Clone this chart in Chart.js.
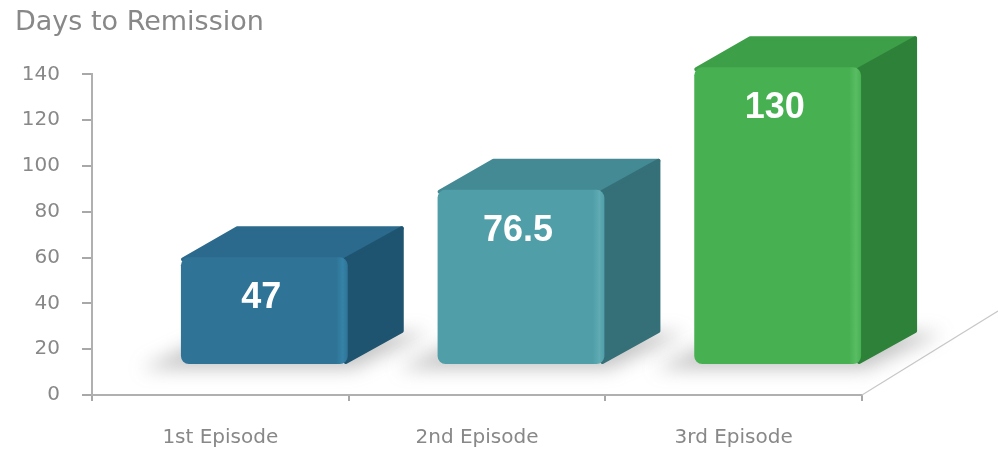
<!DOCTYPE html>
<html lang="en">
<head>
  <meta charset="UTF-8">
  <title>Days to Remission</title>
  <script src="https://cdn.jsdelivr.net/npm/chart.js"></script>
  <style>
    body { margin: 0; background: #fff; }
    #wrap { width: 998px; height: 452px; }
  </style>
</head>
<body>
  <div id="wrap"><canvas id="chart"></canvas></div>
  <script>
    // data
    const episodes = ['1st Episode', '2nd Episode', '3rd Episode'];
    const days = [47, 76.5, 130];
    const yTicks = [0, 20, 40, 60, 80, 100, 120, 140];

    // face colours per bar: front, top, side
    const frontColors = ['#2f7396', '#4f9ea8', '#47b152'];
    const topColors = ['#2b6a8c', '#438a95', '#3d9f47'];
    const sideColors = ['#1e5470', '#356f78', '#2e8138'];

    const FONT = "'DejaVu Sans', sans-serif";
    const SHIFT_X = 44, SHIFT_Y = -30;   // front face offset from the axis plane
    const DEPTH_X = 56, DEPTH_Y = -31;   // box depth

    const boxes3d = {
      id: 'boxes3d',
      beforeDatasetsDraw(chart) {
        const ctx = chart.ctx;
        const area = chart.chartArea;
        // floor edge on the right
        ctx.save();
        ctx.strokeStyle = '#c8c8c8';
        ctx.lineWidth = 1.2;
        ctx.beginPath();
        ctx.moveTo(area.right, area.bottom);
        ctx.lineTo(area.right + 136, area.bottom - 84);
        ctx.stroke();
        ctx.restore();
      },
      afterDatasetsDraw(chart) {
        const ctx = chart.ctx;
        const meta = chart.getDatasetMeta(0);
        meta.data.forEach((bar, i) => {
          const p = bar.getProps(['x', 'y', 'base', 'width'], true);
          const L = p.x - p.width / 2 + SHIFT_X;
          const R = p.x + p.width / 2 + SHIFT_X;
          const T = p.y + SHIFT_Y;
          const B = p.base + SHIFT_Y;

          // soft floor shadow
          ctx.save();
          ctx.filter = 'blur(9px)';
          ctx.fillStyle = 'rgba(110,110,110,0.4)';
          ctx.beginPath();
          ctx.moveTo(L - 40, B + 5);
          ctx.lineTo(R + 5, B + 5);
          ctx.lineTo(R + DEPTH_X + 25, B + DEPTH_Y);
          ctx.lineTo(L + DEPTH_X - 20, B + DEPTH_Y);
          ctx.closePath();
          ctx.fill();
          ctx.restore();

          ctx.save();
          ctx.lineJoin = 'round';
          ctx.lineWidth = 4;
          // top face
          ctx.fillStyle = topColors[i];
          ctx.strokeStyle = topColors[i];
          ctx.beginPath();
          ctx.moveTo(L + 2, T + 2);
          ctx.lineTo(L + DEPTH_X, T + DEPTH_Y + 2);
          ctx.lineTo(R + DEPTH_X - 2, T + DEPTH_Y + 2);
          ctx.lineTo(R - 2, T + 2);
          ctx.closePath();
          ctx.fill();
          ctx.stroke();
          // side face
          ctx.fillStyle = sideColors[i];
          ctx.strokeStyle = sideColors[i];
          ctx.beginPath();
          ctx.moveTo(R - 2, T + 2);
          ctx.lineTo(R + DEPTH_X - 2, T + DEPTH_Y + 2);
          ctx.lineTo(R + DEPTH_X - 2, B + DEPTH_Y - 2);
          ctx.lineTo(R - 2, B - 2);
          ctx.closePath();
          ctx.fill();
          ctx.stroke();
          // front face
          const g = ctx.createLinearGradient(L, 0, R, 0);
          g.addColorStop(0, frontColors[i]);
          g.addColorStop(0.93, frontColors[i]);
          g.addColorStop(0.97, Chart.helpers.color(frontColors[i]).lighten(0.12).rgbString());
          g.addColorStop(1, frontColors[i]);
          ctx.fillStyle = g;
          ctx.beginPath();
          ctx.roundRect(L, T, R - L, B - T, 8);
          ctx.fill();
          ctx.restore();

          // value label
          ctx.save();
          ctx.fillStyle = '#ffffff';
          ctx.font = "bold 36px 'Liberation Sans', Arial, sans-serif";
          ctx.textAlign = 'center';
          ctx.textBaseline = 'middle';
          ctx.fillText(String(days[i]), (L + R) / 2 - 3, T + 41);
          ctx.restore();
        });
      }
    };

    new Chart(document.getElementById('chart'), {
      type: 'bar',
      data: {
        labels: episodes,
        datasets: [{
          data: days,
          backgroundColor: 'rgba(0,0,0,0)',
          borderWidth: 0,
          barPercentage: 0.65,
          categoryPercentage: 1
        }]
      },
      options: {
        responsive: true,
        maintainAspectRatio: false,
        animation: false,
        layout: { padding: { left: 15, right: 136, top: 0, bottom: 0 } },
        plugins: {
          legend: { display: false },
          tooltip: { enabled: false },
          title: {
            display: true,
            text: 'Days to Remission',
            align: 'start',
            color: '#888888',
            font: { family: FONT, size: 27, weight: 'normal' },
            padding: { top: 7, bottom: 35 }
          }
        },
        scales: {
          x: {
            grid: { drawOnChartArea: false, offset: true, tickLength: 6, color: '#a8a8a8', lineWidth: 2 },
            border: { color: '#b0b0b0', width: 2 },
            ticks: { color: '#888888', padding: 25, font: { family: FONT, size: 20 } },
            afterFit(scale) { scale.height = 57; }
          },
          y: {
            min: 0,
            max: 140,
            afterBuildTicks(scale) { scale.ticks = yTicks.map(v => ({ value: v })); },
            grid: { drawOnChartArea: false, tickLength: 10, color: '#a8a8a8', lineWidth: 2 },
            border: { color: '#b0b0b0', width: 2 },
            ticks: { color: '#888888', padding: 22, font: { family: FONT, size: 20 } },
            afterFit(scale) { scale.width = 77; }
          }
        }
      },
      plugins: [boxes3d]
    });
  </script>
</body>
</html>
